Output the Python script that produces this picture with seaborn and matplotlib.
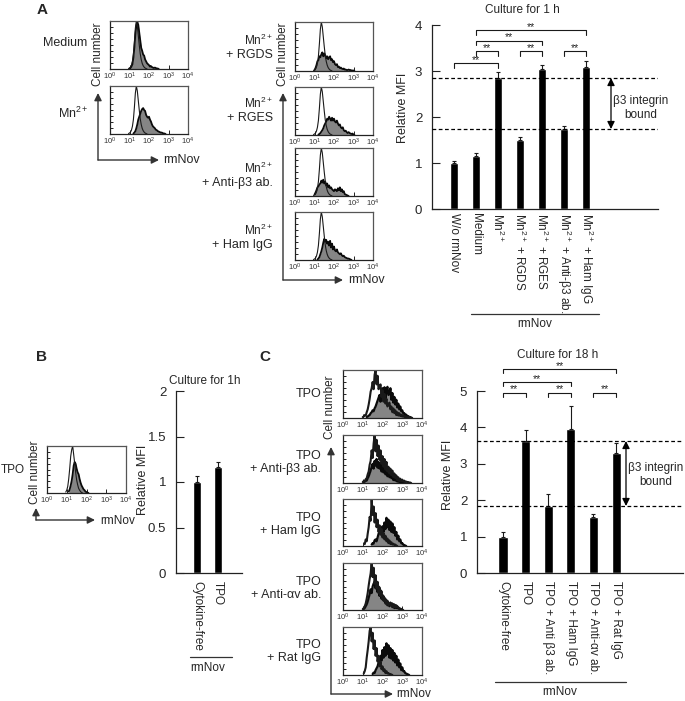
# Painel de histogramas e barras (A, B, C)
import numpy as np
import seaborn as sns
import matplotlib.pyplot as plt

sns.set_style('ticks')
plt.rcParams['font.family'] = ['Liberation Sans', 'DejaVu Sans']
plt.rcParams['mathtext.fontset'] = 'custom'
plt.rcParams['mathtext.rm'] = 'Liberation Sans'
plt.rcParams['mathtext.it'] = 'Liberation Sans'
plt.rcParams['mathtext.bf'] = 'Liberation Sans:bold'
plt.rcParams['mathtext.default'] = 'regular'

W, H = 685, 701
MN = 'Mn$^{2+}$'
BETA = '\u03b2'
ALPHA = '\u03b1'

# barras do painel A
a_labels = ['W/o rmNov', 'Medium', MN, MN + ' + RGDS', MN + ' + RGES',
            MN + ' + Anti-' + BETA + '3 ab.', MN + ' + Ham IgG']
a_values = [1.0, 1.16, 2.85, 1.51, 3.04, 1.74, 3.08]
a_errors = [0.05, 0.06, 0.13, 0.05, 0.10, 0.07, 0.13]
a_ticks = [0, 1, 2, 3, 4]
a_dashes = [2.85, 1.74]
a_brackets = [(0, 2, 3.17), (1, 2, 3.43), (3, 4, 3.43), (5, 6, 3.43), (1, 4, 3.66), (1, 6, 3.89)]

# barras do painel B
b_labels = ['Cytokine-free', 'TPO']
b_values = [1.0, 1.17]
b_errors = [0.07, 0.05]
b_ticks = [0, 0.5, 1, 1.5, 2]
b_ticklabels = ['0', '0.5', '1', '1.5', '2']

# barras do painel C
c_labels = ['Cytokine-free', 'TPO', 'TPO + Anti ' + BETA + '3 ab.', 'TPO + Ham IgG',
            'TPO + Anti-' + ALPHA + 'v ab.', 'TPO + Rat IgG']
c_values = [1.0, 3.63, 1.84, 3.95, 1.53, 3.3]
c_errors = [0.14, 0.30, 0.33, 0.63, 0.08, 0.28]
c_ticks = [0, 1, 2, 3, 4, 5]
c_dashes = [3.63, 1.84]
c_brackets = [(0, 1, 4.95), (2, 3, 4.95), (4, 5, 4.95), (0, 3, 5.25), (0, 5, 5.6)]

# histogramas: (log10 inicial, contagens a cada 0.05 decada)
a_ctrl = (0.95, [1, 2, 4, 8, 16, 30, 55, 85, 100, 90, 70, 50, 32, 20, 12, 7, 4, 2, 1, 0])
a_medium = (1.0, [1, 2, 5, 10, 24, 45, 72, 90, 98, 92, 76, 60, 44, 38, 30, 28, 20, 16, 12, 10,
                  8, 5, 6, 4, 3, 2, 3, 2, 1, 1, 0])
a_mn = (1.2, [1, 3, 6, 12, 20, 30, 36, 42, 48, 52, 54, 50, 48, 40, 36, 34, 36, 30, 26, 20, 16,
              14, 12, 9, 8, 6, 5, 4, 3, 3, 2, 1, 1, 0])
a_rgds = (1.0, [2, 6, 12, 20, 22, 30, 28, 34, 38, 30, 36, 32, 26, 30, 24, 28, 30, 22, 24, 18, 20,
                14, 12, 14, 8, 9, 6, 7, 5, 4, 5, 3, 3, 2, 2, 3, 2, 2, 1, 1, 1, 0])
a_rges = (1.2, [1, 2, 4, 7, 10, 14, 20, 24, 28, 34, 32, 38, 34, 30, 36, 30, 34, 28, 26, 30, 24,
                20, 22, 16, 14, 16, 10, 8, 9, 6, 4, 6, 4, 3, 2, 3, 1, 0])
a_antib3 = (1.0, [3, 7, 12, 18, 20, 24, 26, 32, 28, 34, 26, 30, 22, 26, 18, 22, 16, 18, 14, 12,
                  10, 14, 12, 10, 16, 12, 18, 10, 14, 8, 10, 4, 3, 2, 1, 0])
a_ham = (1.15, [1, 3, 6, 12, 18, 26, 36, 44, 38, 42, 34, 38, 30, 40, 26, 34, 22, 28, 20, 18, 22,
                16, 14, 12, 14, 10, 8, 9, 6, 5, 4, 3, 3, 2, 1, 0])

b_ctrl = (0.95, [2, 6, 14, 30, 52, 78, 92, 100, 82, 64, 44, 28, 18, 10, 6, 3, 1, 0])
b_tpo = (1.1, [3, 8, 16, 26, 40, 58, 66, 62, 52, 44, 40, 30, 22, 16, 12, 8, 6, 3, 2, 1, 0])

c_tpo_ctrl = (1.0, [2, 3, 6, 5, 12, 18, 28, 40, 55, 62, 75, 60, 90, 100, 70, 88, 60, 65, 70, 44,
                    58, 34, 50, 30, 40, 24, 28, 32, 18, 24, 12, 20, 10, 16, 6, 12, 5, 10, 4, 7,
                    3, 6, 2, 4, 2, 3, 1, 2, 1, 0])
c_tpo_samp = (1.2, [2, 3, 5, 6, 10, 12, 16, 14, 20, 24, 30, 36, 42, 48, 34, 55, 62, 42, 64, 40,
                    60, 65, 48, 50, 62, 38, 52, 32, 44, 28, 38, 22, 30, 18, 24, 14, 16, 10, 10,
                    6, 7, 4, 4, 2, 2, 1, 0])
c_b3_ctrl = (1.0, [2, 4, 3, 8, 10, 18, 24, 38, 46, 68, 52, 82, 100, 66, 90, 56, 78, 48, 68, 40,
                   56, 34, 50, 28, 44, 24, 34, 20, 30, 16, 26, 12, 20, 10, 16, 6, 12, 4, 9, 4,
                   7, 3, 5, 2, 3, 2, 2, 1, 1, 0])
c_b3_samp = (1.05, [2, 3, 6, 5, 10, 14, 20, 26, 34, 40, 30, 46, 36, 50, 32, 44, 30, 42, 24, 36,
                    22, 32, 18, 26, 14, 22, 12, 18, 10, 14, 6, 10, 5, 8, 3, 5, 2, 4, 2, 2, 1, 0])
c_ham_ctrl = (1.1, [4, 14, 10, 26, 40, 62, 54, 100, 66, 84, 50, 70, 40, 56, 30, 44, 24, 36, 18,
                    28, 14, 22, 10, 16, 6, 12, 4, 8, 3, 5, 2, 3, 1, 0])
c_ham_samp = (1.45, [3, 6, 5, 12, 14, 10, 18, 26, 30, 38, 28, 42, 30, 50, 36, 60, 40, 56, 34, 52,
                     30, 48, 28, 40, 22, 30, 14, 22, 10, 14, 6, 6, 3, 2, 1, 0])
c_av_ctrl = (1.0, [2, 4, 8, 14, 24, 36, 52, 66, 78, 100, 70, 90, 56, 74, 46, 60, 36, 48, 30, 40,
                   22, 30, 18, 24, 12, 20, 10, 12, 16, 8, 14, 6, 12, 5, 10, 6, 6, 3, 3, 2, 1, 0])
c_av_samp = (1.05, [2, 4, 8, 12, 18, 26, 34, 44, 36, 50, 56, 60, 46, 58, 38, 50, 30, 42, 24, 32,
                    20, 26, 14, 20, 10, 16, 8, 12, 14, 6, 12, 4, 10, 4, 8, 3, 3, 2, 1, 0])
c_rat_ctrl = (1.05, [3, 8, 16, 36, 52, 70, 92, 100, 70, 88, 54, 72, 40, 56, 28, 40, 18, 28, 12,
                     18, 8, 12, 4, 8, 3, 4, 2, 2, 1, 0])
c_rat_samp = (1.5, [2, 5, 4, 10, 14, 18, 26, 30, 40, 30, 52, 36, 58, 40, 66, 44, 62, 36, 56, 34,
                    52, 30, 46, 26, 40, 20, 32, 16, 24, 10, 16, 8, 8, 4, 3, 2, 1, 0])

fig = plt.figure(figsize=(W / 100, H / 100), dpi=100, facecolor='white')


def pix_axes(x0, y0, x1, y1):
    # eixos posicionados em pixels da imagem (y para baixo)
    return fig.add_axes([x0 / W, 1 - y1 / H, (x1 - x0) / W, (y1 - y0) / H])


def histo(box, ctrl, samp, lw_samp=1.3, lw_ctrl=0.8):
    ax = pix_axes(*box)
    ax.set_facecolor('none')
    ax.set_xscale('log')
    xs = 10 ** (samp[0] + 0.05 * np.arange(len(samp[1])))
    xc = 10 ** (ctrl[0] + 0.05 * np.arange(len(ctrl[1])))
    ax.fill_between(xs, samp[1], 0, color='#858585', lw=0)
    sns.lineplot(x=xs, y=samp[1], ax=ax, color='#0a0a0a', lw=lw_samp, estimator=None, errorbar=None)
    sns.lineplot(x=xc, y=ctrl[1], ax=ax, color='#1a1a1a', lw=lw_ctrl, estimator=None, errorbar=None)
    ax.set_xlim(1, 1e4)
    ax.set_ylim(0, 100)
    ax.set_xticks([1, 10, 100, 1000, 10000])
    ax.set_yticks(np.arange(0, 101, 12.5))
    ax.set_yticklabels([])
    ax.set_xlabel('')
    ax.set_ylabel('')
    ax.tick_params(axis='y', direction='in', length=2.2, width=0.7, color='#222222')
    ax.tick_params(axis='x', which='major', direction='in', length=3, width=0.7, pad=1,
                   labelsize=5.5, labelcolor='#333333', color='#222222')
    ax.tick_params(axis='x', which='minor', direction='in', length=1.5, width=0.5, color='#222222')
    for s in ax.spines.values():
        s.set_linewidth(0.9)
        s.set_color('#555555')
    ax.spines['left'].set_color('#222222')
    ax.spines['bottom'].set_color('#222222')
    return ax


def bars(box, xlim, ylim, labels, values, errors, ticks, ticklabels, pad, width):
    ax = pix_axes(*box)
    ax.set_facecolor('none')
    sns.barplot(x=labels, y=values, ax=ax, color='black', saturation=1, width=width, errorbar=None)
    pos = np.arange(len(values))
    ax.errorbar(pos, values, yerr=[np.zeros(len(errors)), errors], fmt='none', ecolor='#1a1a1a',
                elinewidth=0.8, capsize=1.4, capthick=0.8)
    ax.set_xlim(*xlim)
    ax.set_ylim(*ylim)
    ax.set_yticks(ticks)
    ax.set_yticklabels(ticklabels, fontsize=9.5)
    ax.set_xticks(pos)
    ax.set_xticklabels(labels, rotation=-90, ha='center', va='top', fontsize=8.5)
    ax.tick_params(axis='x', length=0, pad=pad)
    ax.tick_params(axis='y', direction='in', length=5.5, width=0.8, pad=7, color='#222222')
    ax.set_xlabel('')
    ax.set_ylabel('')
    sns.despine(ax=ax)
    for s in ['left', 'bottom']:
        ax.spines[s].set_linewidth(0.9)
        ax.spines[s].set_color('#222222')
    return ax


def dashes(ax, levels):
    for v in levels:
        ax.axhline(v, color='black', lw=0.9, ls=(0, (3, 2)), zorder=5)


def brackets(ax, items, leg, star_dy):
    for a, b, y in items:
        ax.plot([a, a, b, b], [y - leg, y, y, y - leg], color='#1a1a1a', lw=0.8, clip_on=False)
        ax.text((a + b) / 2, y + star_dy, '**', ha='center', va='center', fontsize=7.5)


# histogramas do painel A
histo((110, 21, 188, 69), a_ctrl, a_medium)
histo((110, 86, 188, 134), a_ctrl, a_mn)
histo((295, 22, 373, 71), a_ctrl, a_rgds)
histo((295, 87, 373, 135), a_ctrl, a_rges)
histo((295, 148, 373, 196), a_ctrl, a_antib3)
histo((295, 212, 373, 260), a_ctrl, a_ham)

# histograma do painel B
histo((47, 446, 126, 493), b_ctrl, b_tpo)

# histogramas do painel C
histo((343, 370, 422, 418), c_tpo_ctrl, c_tpo_samp, 1.6, 1.5)
histo((343, 435, 422, 483), c_b3_ctrl, c_b3_samp, 1.6, 1.5)
histo((343, 499, 422, 546), c_ham_ctrl, c_ham_samp, 1.6, 1.5)
histo((343, 563, 422, 610), c_av_ctrl, c_av_samp, 1.6, 1.5)
histo((343, 627, 422, 675), c_rat_ctrl, c_rat_samp, 1.6, 1.5)

# barras
ax_a = bars((432, 25, 658, 209), (-1, 9.27), (0, 4), a_labels, a_values, a_errors,
            a_ticks, [str(t) for t in a_ticks], 3, 0.4)
dashes(ax_a, a_dashes)
brackets(ax_a, a_brackets, 0.1, 0.07)

ax_b = bars((176, 391, 242, 573), (-1, 2.14), (0, 2), b_labels, b_values, b_errors,
            b_ticks, b_ticklabels, 6, 0.42)

ax_c = bars((477, 391, 683, 573), (-1.15, 7.96), (0, 5), c_labels, c_values, c_errors,
            c_ticks, [str(t) for t in c_ticks], 6, 0.4)
dashes(ax_c, c_dashes)
brackets(ax_c, c_brackets, 0.11, 0.09)

# camada de textos e setas em pixels
ov = fig.add_axes([0, 0, 1, 1])
ov.set_xlim(0, W)
ov.set_ylim(H, 0)
ov.axis('off')
ov.patch.set_alpha(0)


def label(x, y, s, size=8.5, ha='center', rot=0, weight='normal'):
    ov.text(x, y, s, fontsize=size, ha=ha, va='center', rotation=rot, fontweight=weight)


def arrow(x0, y0, x1, y1, style='-|>', color='#333333', lw=1.0):
    ov.annotate('', xy=(x1, y1), xytext=(x0, y0),
                arrowprops=dict(arrowstyle=style, color=color, lw=lw, shrinkA=0, shrinkB=0,
                                mutation_scale=11))


def axes_arrows(xc, ytop, ybot, xright):
    arrow(xc, ybot, xc, ytop)
    arrow(xc, ybot, xright, ybot)


for x, y, s in [(42, 10, 'A'), (42, 357, 'B'), (265, 357, 'C')]:
    label(x, y, s, size=11, weight='bold')

# eixos de seta dos histogramas
axes_arrows(98, 93, 160, 159)
axes_arrows(283, 93, 280, 343)
axes_arrows(36, 508, 520, 95)
axes_arrows(331, 447, 694, 393)
label(163, 160, 'rmNov', ha='left', size=9)
label(348, 280, 'rmNov', ha='left', size=9)
label(100, 521, 'rmNov', ha='left', size=8.5)
label(396, 694, 'rmNov', ha='left', size=8.5)

for x, y in [(98, 54), (283, 54), (330, 407), (35, 472)]:
    label(x, y, 'Cell number', rot=90, size=8.5)

# rotulos das linhas
label(87, 43, 'Medium', ha='right', size=9)
label(88, 113, MN, ha='right', size=9)
for y1, s in [(40, '+ RGDS'), (103, '+ RGES'), (168, '+ Anti-' + BETA + '3 ab.'), (230, '+ Ham IgG')]:
    label(273, y1, MN, ha='right', size=8.5)
    label(273, y1 + 15, s, ha='right', size=9)
label(25, 470, 'TPO', ha='right', size=8.5)
label(321, 394, 'TPO', ha='right', size=9)
for y1, s in [(456, '+ Anti-' + BETA + '3 ab.'), (518, '+ Ham IgG'), (582, '+ Anti-' + ALPHA + 'v ab.'), (645, '+ Rat IgG')]:
    label(321, y1, 'TPO', ha='right', size=9)
    label(321, y1 + 13, s, ha='right', size=9)

# titulos e eixos y
label(522, 10, 'Culture for 1 h')
label(558, 355, 'Culture for 18 h')
label(205, 381, 'Culture for 1h')
label(403, 108, 'Relative MFI', rot=90, size=9)
label(143, 480, 'Relative MFI', rot=90, size=9)
label(448, 475, 'Relative MFI', rot=90, size=9)

# linha e legenda rmNov sob as barras
for x0, x1, y in [(471, 599, 314), (190, 232, 657), (495, 626, 682)]:
    ov.plot([x0, x1], [y, y], color='#333333', lw=0.9)
label(535, 324, 'rmNov')
label(208, 668, 'rmNov')
label(560, 692, 'rmNov')

# seta de integrina ligada
arrow(611, 78, 611, 129, style='<|-|>', color='black', lw=0.9)
label(641, 108, BETA + '3 integrin\nbound', size=8.5)
arrow(626, 441, 626, 506, style='<|-|>', color='black', lw=0.9)
label(656, 475, BETA + '3 integrin\nbound', size=8.5)

fig.savefig('out.png', dpi=100, facecolor='white')
